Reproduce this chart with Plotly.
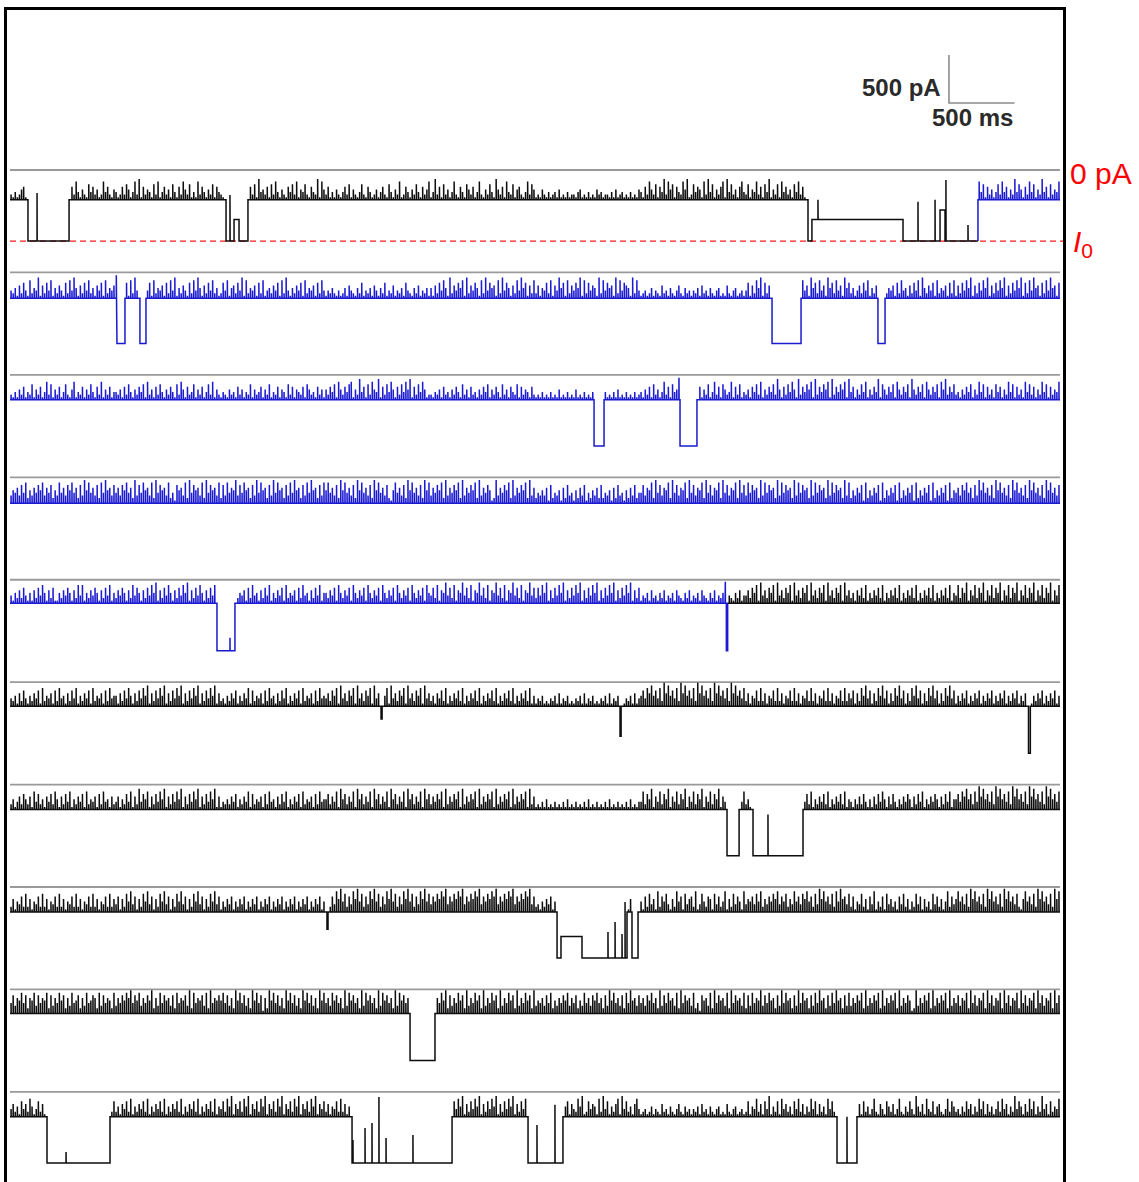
import plotly.graph_objects as go

# ---- recording layout -------------------------------------------------
T_MS = 8000          # length of each sweep (ms)
ROW_STEP = 1067      # vertical spacing between stacked sweeps (pA)
I0 = -740            # fully blocked / open-pore reference level (pA)
MID = -515           # intermediate sub-conductance level (pA)
SPIKE_UNIT = 27      # pA per digit in the flicker strings

# resting level of each sweep relative to its own 0 pA line
baseline = [-310, -270, -260, -270, -245, -250, -260, -260, -250, -260]

# dwell events away from the resting level: (start ms, end ms, level pA)
segments = [
    [(137, 450, I0), (1646, 1707, I0), (1707, 1745, MID), (1745, 1813, I0),
     (6080, 6110, I0), (6110, 6804, MID), (6804, 7086, I0), (7086, 7124, -417),
     (7124, 7375, I0)],
    [(815, 876, I0), (990, 1036, I0), (5806, 6027, I0), (6613, 6667, I0)],
    [(4450, 4526, I0), (5105, 5234, I0)],
    [],
    [(1577, 1714, I0), (5458, 5468, I0)],
    [(2827, 2835, -385), (4648, 4656, -563), (7760, 7774, I0)],
    [(5463, 5555, I0), (5661, 6042, I0)],
    [(2415, 2423, -440), (4168, 4198, I0), (4198, 4358, MID), (4358, 4701, I0),
     (4739, 4785, I0)],
    [(3048, 3238, I0)],
    [(282, 762, I0), (2606, 3368, I0), (3947, 4213, I0), (6301, 6453, I0)],
]

# brief openings inside events: (time ms, peak pA)
event_spikes = [
    [(206, -240), (1676, -260), (6156, -310), (6918, -330), (7048, -310),
     (7131, -104), (7299, -573)],
    [(810, -30)],
    [(5097, -30)],
    [],
    [(1676, -604), (5450, -20)],
    [],
    [(5775, -312)],
    [(4556, -469), (4610, -365), (4663, -490), (4686, -156)],
    [],
    [(427, -625), (2613, -500), (2705, -375), (2758, -323), (2811, -52),
     (2865, -480), (3070, -448), (4015, -344), (4152, -135), (6377, -260)],
]

# flicker amplitudes along each sweep (one digit per time bin)
flicker = [
    "21312451321263142173251412631527314216352412735214"
    "31252641372815243162713524163152742613172531426153"
    "21413527241631526183425162731421536271436215328174"
    "25131421352614213621531241352163142712531426315247"
    "13825162413721531642513721426318425173261452137264"
    "12142131231412131221341213121423122131412312131214"
    "31527426153827461532748126354172836142571836241573"
    "26143725163814261735241637251427361524173625148263"
    "41627351826473152846173562813742651736248152736418"
    "23142635142736152413627351428364152736142835162437",

    "32415263172438152637142531627384152637241536172435"
    "14253617283142536172435162738142531627384152637241"
    "26371452638172435162713425361728314253617243516273"
    "13242131241532142613241531426132513241632142513241"
    "41526374182536471825364172836451728364152738461527"
    "25143627153846172536481726354182736451827365418273"
    "12312413215231421352142313241523142134121521341231"
    "36152748162537418263571846273518462735184627351846"
    "24135263714253617243516273415263718425361724351627"
    "15263748152637481526374815263748162738451627384516",

    "21314251326142513726142513621471325142631527142513"
    "32415263142536172415263142531627415236142513627142"
    "13214231524132614235142613251431625143251642315241"
    "42536174253671428351627438152637415263748152637412"
    "21324152314253162415231425361425316241532615243152"
    "12131213121412131214121312131412131213141213121312"
    "31425162413725163417251642735142613725164237152613"
    "24153627142536284152637418253647182536471825364718"
    "35142637142538164253617425361842536174253617482536"
    "23142536142736152416351427361524173625142736152437",

    "35463748253647583647253846375846273958463728495637"
    "46375846293748563829475638241756382947563829475638"
    "27384659374856273948562739485627384956273849562738"
    "58463729584637295846372958463721584637295846372958"
    "36475829364758293647582936475129364758293647582936"
    "24353617243516273415263714253627243516273415263724"
    "47365829473658294736582947365829473658294736582947"
    "38475629384756293847562938475629384756293847562938"
    "25364718253647182536471825364718253647182536471825"
    "46375846273958463729584637295846372958463729584637",

    "31425263141526374152611425364152737142536415263714"
    "25364152736415263748152637415263748152637415263748"
    "14253617243516273415263714253617243516273415263714"
    "42536174253617425361742536174253617425361742536174"
    "36271548362715483627154836271548362715483627154836"
    "26374815263748152637481526374815263748152637481526"
    "13241523142513241532142513241532142513241532142513"
    "35264718352647183526471835264718352647183526471835"
    "24153627142536271425362714253627142536271425362714"
    "37264815372648153726481537264815372648153726481537",

    "32415263142536172435162734152637142536172435162734"
    "41526374152637481526374815263748152637481526374815"
    "23142536142537162435162734152637142536172435162734"
    "35264718352647183526471835264718352647183526471835"
    "24153627142536271425362714253627142536271425362714"
    "13241213241513241213241513241213241513241213241513"
    "46375846372958463729584637295846372958463729584637"
    "25143627251436272514362725143627251436272514362725"
    "36152748361527483615274836152748361527483615274836"
    "14253614253614253614253614253614253614253614253614",

    "24135264251736241536274152637142536172435162734152"
    "35142637152836471526374815263748152637481526374815"
    "13242536142537162435162734152637142536172435162734"
    "46253718462537184625371846253718462537184625371846"
    "25364718253647182536471825364718253647182536471825"
    "12131412131213141213121314121312131412131213141213"
    "37264815372648153726481537264815372648153726481537"
    "24153627142536271425362714253627142536271425362714"
    "31425263141526374152631425364152637142536415263714"
    "46375846273958463729584637295846372958463729584637",

    "25143627251436272514362725143627251436272514362725"
    "36152748361527483615274836152748361527483615274836"
    "14253614253614253614253614253614253614253614253614"
    "47263859472638594726385947263859472638594726385947"
    "36475869364758693647586936475869364758693647586936"
    "23142536142736152416351427361524173625142736152437"
    "41627351826473152846173562813742651736248152736418"
    "35463748253647583647253846375846273958463728495637"
    "26143725163814261735241637251427361524173625148263"
    "58463729584637295846372958463721584637295846372958",

    "47365847265837465827364857263845726384576283746528"
    "36475869475836475926384756372846573928465738294657"
    "58473629584736295847162958473629584736295847362958"
    "46385746293857462938574629385746293857462938574629"
    "57364859273648572936485729364857293648572936485729"
    "35463748253647583647253846375846273958463728495637"
    "46375846293748563829475638241756382947563829475638"
    "27384659374856273948562739485627384956273849562738"
    "36475829364758293647582936475129364758293647582936"
    "47365829473658294736582947365829473658294736582947",

    "35241635274136251427365241736254172635417263541726"
    "24153627142536271425362714253627142536271425362714"
    "36274815362748153627481536274815362748153627481536"
    "25143627251436272514362725143627251436272514362725"
    "41526374152637481526374815263748152637481526374815"
    "31527426153827461532748126354172836142571836241573"
    "12312413215231421352142313241523142134121521341231"
    "26143725163814261735241637251427361524173625148263"
    "13825162413721531642513721426318425173261452137264"
    "23142635142736152413627351428364152736142835162437",
]

# time window (ms) of each sweep recorded in the second condition
second_condition = [(7375, T_MS), (0, T_MS), (0, T_MS), (0, T_MS), (0, 5470),
                    None, None, None, None, None]

SCALE_PA = 500
SCALE_MS = 500

BLACK = "#0d0d0d"
BLUE = "#1a1ad0"


def sweep_points(k, t_a, t_b):
    base = baseline[k]
    segs = segments[k]

    def level_at(t):
        for s0, s1, lv in segs:
            if s0 <= t < s1:
                return lv
        return base

    feats = []
    for s0, s1, _ in segs:
        feats.append((s0, "step", None))
        feats.append((s1, "step", None))
    digits = flicker[k]
    bw = T_MS / len(digits)
    for i, ch in enumerate(digits):
        h = int(ch) * SPIKE_UNIT
        t = (i + 0.5) * bw
        if h == 0:
            continue
        if any(s0 - bw / 2 <= t <= s1 + bw / 2 for s0, s1, _ in segs):
            continue
        feats.append((t, "spike", base + h))
    for t, top in event_spikes[k]:
        feats.append((t, "spike", top))
    feats = sorted([f for f in feats if t_a <= f[0] < t_b], key=lambda f: f[0])

    # a piece that starts mid-sweep carries on from the previous level
    cur = level_at(t_a - 1e-6) if t_a > 0 else level_at(t_a)
    xs, ys = [t_a], [cur]
    for t, kind, top in feats:
        if kind == "step":
            new = level_at(t)
            xs += [t, t]
            ys += [cur, new]
            cur = new
        else:
            xs += [t, t, t + 1]
            ys += [cur, top, cur]
    xs.append(t_b)
    ys.append(cur)
    off = -k * ROW_STEP
    return xs, [y + off for y in ys]


fig = go.Figure()

# 0 pA reference line of each sweep
for k in range(len(baseline)):
    fig.add_trace(go.Scatter(x=[0, T_MS], y=[-k * ROW_STEP] * 2, mode="lines",
                             line=dict(color="#9a9a9a", width=1.8),
                             hoverinfo="skip"))

# I0 level marked on the first sweep
x_end = T_MS + 3 / (1050 / T_MS)
fig.add_trace(go.Scatter(x=[0, x_end], y=[I0, I0], mode="lines",
                         line=dict(color="#ff1a1a", width=1.3, dash="6px,4px"),
                         hoverinfo="skip", cliponaxis=False))

# current sweeps, split by recording condition
for k in range(len(baseline)):
    win = second_condition[k]
    pieces = []
    if win is None:
        pieces.append((0, T_MS, BLACK))
    else:
        a, b = win
        if a > 0:
            pieces.append((0, a, BLACK))
        pieces.append((a, b, BLUE))
        if b < T_MS:
            pieces.append((b, T_MS, BLACK))
    for a, b, col in pieces:
        xs, ys = sweep_points(k, a, b)
        fig.add_trace(go.Scatter(x=xs, y=ys, mode="lines",
                                 line=dict(color=col, width=1.5),
                                 hoverinfo="skip"))

# scale bar
sb_x = 7154
sb_y = 698
fig.add_trace(go.Scatter(x=[sb_x, sb_x, sb_x + SCALE_MS],
                         y=[sb_y + SCALE_PA, sb_y, sb_y], mode="lines",
                         line=dict(color="#8c8c8c", width=1.6),
                         hoverinfo="skip"))

bold = dict(family="Liberation Sans", size=24, color="#2a2a2a")
fig.add_annotation(x=sb_x - 45, y=sb_y + 160, xref="x", yref="y",
                   text=f"<b>{SCALE_PA} pA</b>", showarrow=False,
                   xanchor="right", yanchor="middle", font=bold)
fig.add_annotation(x=sb_x + SCALE_MS, y=sb_y - 150, xref="x", yref="y",
                   text=f"<b>{SCALE_MS} ms</b>", showarrow=False,
                   xanchor="right", yanchor="middle", font=bold)

red = dict(family="Liberation Sans", size=30, color="#ff0000")
fig.add_annotation(x=1.0045, y=0, xref="paper", yref="y", text="0 pA",
                   showarrow=False, xanchor="left", yanchor="middle",
                   yshift=-3, font=red)
fig.add_annotation(x=1.0075, y=I0, xref="paper", yref="y",
                   text="<i>I</i><sub>0</sub>", showarrow=False,
                   xanchor="left", yanchor="middle", yshift=-2, font=red)

px_per_ms = 1050 / T_MS
pa_per_px = SCALE_PA / 48
fig.update_layout(
    width=1139, height=1182, autosize=False,
    margin=dict(l=7, r=76, t=10, b=0),
    paper_bgcolor="white", plot_bgcolor="white",
    showlegend=False,
    xaxis=dict(range=[-3 / px_per_ms, T_MS + 3 / px_per_ms], showgrid=False,
               zeroline=False, showticklabels=False, ticks="",
               showline=True, side="top", linecolor="black", linewidth=2.5,
               mirror=False),
    yaxis=dict(range=[(170 - 1182) * pa_per_px, (170 - 10) * pa_per_px],
               showgrid=False, zeroline=False, showticklabels=False, ticks="",
               showline=True, mirror=True, linecolor="black", linewidth=2.5),
)

fig.write_html("out.html")
